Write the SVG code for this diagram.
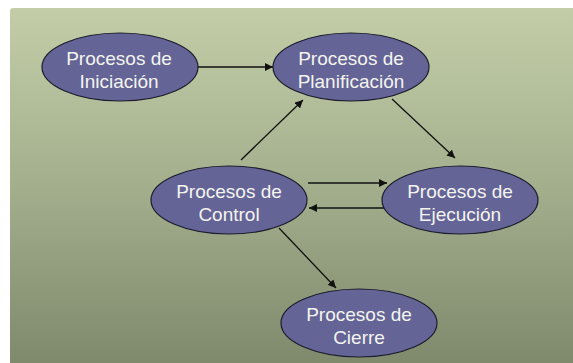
<svg xmlns="http://www.w3.org/2000/svg" width="573" height="363" viewBox="0 0 573 363">
  <defs>
    <linearGradient id="bg" x1="0" y1="0" x2="0" y2="1">
      <stop offset="0" stop-color="#c3cea8"/>
      <stop offset="0.5" stop-color="#a3ae8d"/>
      <stop offset="1" stop-color="#7e896c"/>
    </linearGradient>
    <marker id="arr" viewBox="0 0 10 10" refX="10" refY="5" markerWidth="8" markerHeight="8" markerUnits="userSpaceOnUse" orient="auto">
      <path d="M0,0 L10,5 L0,10 z" fill="#111"/>
    </marker>
  </defs>
  <style>
    .node ellipse { fill: #646497; stroke: #1c1c2c; stroke-width: 1.2; }
    .node text { font-family: "Liberation Sans", Arial, sans-serif; font-size: 19px; fill: #f4f4ee; text-anchor: middle; }
    .edge { stroke: #111; stroke-width: 1.3; fill: none; marker-end: url(#arr); }
  </style>
  <rect x="0" y="0" width="573" height="363" fill="#ffffff"/>
  <rect x="10" y="8" width="570" height="360" rx="3" fill="url(#bg)"/>

  <g id="connectors">
    <line class="edge" x1="198" y1="67" x2="273" y2="67"/>
    <line class="edge" x1="241" y1="160" x2="303" y2="100"/>
    <line class="edge" x1="392" y1="99" x2="455" y2="158"/>
    <line class="edge" x1="308" y1="183" x2="387" y2="183"/>
    <line class="edge" x1="385" y1="208" x2="309" y2="208"/>
    <line class="edge" x1="279" y1="228" x2="336" y2="288"/>
  </g>

  <g id="iniciacion" class="node">
    <ellipse cx="120" cy="67" rx="78" ry="34"/>
    <text x="119" y="65">Procesos de</text>
    <text x="119" y="88">Iniciación</text>
  </g>
  <g id="planificacion" class="node">
    <ellipse cx="351" cy="67" rx="78" ry="34"/>
    <text x="351" y="65">Procesos de</text>
    <text x="351" y="88">Planificación</text>
  </g>
  <g id="control" class="node">
    <ellipse cx="229" cy="200" rx="78" ry="34"/>
    <text x="229" y="198">Procesos de</text>
    <text x="229" y="221">Control</text>
  </g>
  <g id="ejecucion" class="node">
    <ellipse cx="460" cy="200" rx="78" ry="34"/>
    <text x="460" y="198">Procesos de</text>
    <text x="460" y="221">Ejecución</text>
  </g>
  <g id="cierre" class="node">
    <ellipse cx="359" cy="323" rx="78" ry="34"/>
    <text x="359" y="321">Procesos de</text>
    <text x="359" y="344">Cierre</text>
  </g>
</svg>
